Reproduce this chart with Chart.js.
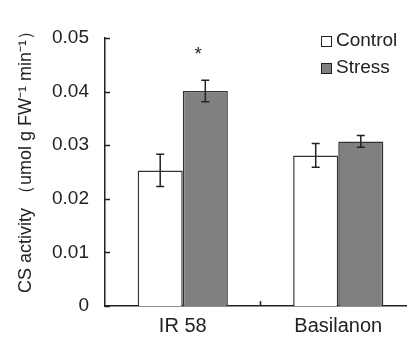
<!DOCTYPE html>
<html>
<head>
<meta charset="utf-8">
<script src="https://cdn.jsdelivr.net/npm/chart.js@4.4.0/dist/chart.umd.min.js"></script>
<style>
html, body { margin: 0; padding: 0; background: #fff; overflow: hidden; }
#wrap { width: 416px; height: 338px; }
</style>
</head>
<body>
<div id="wrap"><canvas id="c"></canvas></div>
<script>
// values
const categories = ['IR 58', 'Basilanon'];
const controlValues = [0.0253, 0.0281];
const controlErrors = [0.0030, 0.0022];
const stressValues = [0.0401, 0.0307];
const stressErrors = [0.0020, 0.0011];
const stressMarks = ['*', ''];
const yTitle = 'CS activity （umol g FW⁻¹ min⁻¹）';

const ink = '#222';

// error bars with caps
const errorBars = {
    id: 'errorBars',
    afterDatasetsDraw(chart) {
        const ctx = chart.ctx;
        const y = chart.scales.y;
        ctx.save();
        ctx.strokeStyle = ink;
        ctx.lineWidth = 1.5;
        chart.data.datasets.forEach((ds, i) => {
            chart.getDatasetMeta(i).data.forEach((bar, j) => {
                const v = ds.data[j], e = ds.errors[j];
                const top = y.getPixelForValue(v + e);
                const bot = y.getPixelForValue(v - e);
                ctx.beginPath();
                ctx.moveTo(bar.x, top); ctx.lineTo(bar.x, bot);
                ctx.moveTo(bar.x - 4, top); ctx.lineTo(bar.x + 4, top);
                ctx.moveTo(bar.x - 4, bot); ctx.lineTo(bar.x + 4, bot);
                ctx.stroke();
                if (ds.marks && ds.marks[j]) {
                    ctx.fillStyle = ink;
                    ctx.font = '19px Arial';
                    ctx.textAlign = 'center';
                    ctx.textBaseline = 'middle';
                    ctx.fillText(ds.marks[j], bar.x - 7, top - 26);
                }
            });
        });
        ctx.restore();
    }
};

// inward tick marks like the original
const innerTicks = {
    id: 'innerTicks',
    afterDraw(chart) {
        const ctx = chart.ctx;
        const a = chart.chartArea;
        const y = chart.scales.y;
        ctx.save();
        ctx.strokeStyle = ink;
        ctx.lineWidth = 1.5;
        ctx.beginPath();
        y.ticks.forEach(t => {
            const py = Math.round(y.getPixelForValue(t.value)) + 0.5;
            ctx.moveTo(a.left, py); ctx.lineTo(a.left + 5, py);
        });
        // category divider tick
        const x = chart.scales.x;
        for (let i = 1; i < categories.length; i++) {
            const px = (x.getPixelForValue(i - 1) + x.getPixelForValue(i)) / 2;
            ctx.moveTo(px, a.bottom); ctx.lineTo(px, a.bottom - 5);
        }
        ctx.stroke();
        ctx.restore();
    }
};

// y title, bottom-anchored like the original
const yTitleText = {
    id: 'yTitleText',
    afterDraw(chart) {
        const ctx = chart.ctx;
        const a = chart.chartArea;
        ctx.save();
        ctx.translate(26, a.bottom - 13);
        ctx.rotate(-Math.PI / 2);
        ctx.font = '18px Arial';
        ctx.fillStyle = ink;
        ctx.textAlign = 'left';
        ctx.textBaseline = 'middle';
        ctx.fillText(yTitle, 0, 0);
        ctx.restore();
    }
};

const legendBox = {
    id: 'legendBox',
    afterDraw(chart) {
        const ctx = chart.ctx;
        const a = chart.chartArea;
        ctx.save();
        ctx.font = '19px Arial';
        ctx.textBaseline = 'middle';
        ctx.textAlign = 'left';
        chart.data.datasets.forEach((ds, i) => {
            const x = a.right - 95, yy = a.top + 3 + i * 27;
            ctx.fillStyle = ds.backgroundColor;
            ctx.fillRect(x, yy - 5, 10, 10);
            ctx.strokeStyle = ink;
            ctx.lineWidth = 1;
            ctx.strokeRect(x + 0.5, yy - 4.5, 10, 10);
            ctx.fillStyle = ink;
            ctx.fillText(ds.label, x + 15, yy);
        });
        ctx.restore();
    }
};

new Chart(document.getElementById('c'), {
    type: 'bar',
    data: {
        labels: categories,
        datasets: [{
            label: 'Control',
            data: controlValues,
            errors: controlErrors,
            backgroundColor: '#ffffff',
            borderColor: '#333',
            borderWidth: 1.5
        }, {
            label: 'Stress',
            data: stressValues,
            errors: stressErrors,
            marks: stressMarks,
            backgroundColor: '#808080',
            borderColor: '#333',
            borderWidth: 1.5
        }]
    },
    options: {
        responsive: true,
        maintainAspectRatio: false,
        animation: false,
        layout: { padding: { top: 38, right: 0, left: 51, bottom: 0 } },
        datasets: { bar: { barPercentage: 1, categoryPercentage: 0.58 } },
        plugins: { legend: { display: false }, tooltip: { enabled: false } },
        scales: {
            x: {
                grid: { display: false, drawTicks: false },
                border: { display: true, color: ink, width: 1.5 },
                ticks: { color: ink, font: { family: 'Arial', size: 20 }, padding: 8 },
                afterFit: s => { s.height = 32; }
            },
            y: {
                min: 0,
                max: 0.05,
                grid: { display: false, drawTicks: false },
                border: { display: true, color: ink, width: 1.5 },
                ticks: {
                    stepSize: 0.01,
                    color: ink,
                    padding: 16,
                    font: { family: 'Arial', size: 19 },
                    callback: v => v === 0 ? '0' : v.toFixed(2)
                },
                afterFit: s => { s.width = 54; }
            }
        }
    },
    plugins: [errorBars, innerTicks, yTitleText, legendBox]
});
</script>
</body>
</html>
